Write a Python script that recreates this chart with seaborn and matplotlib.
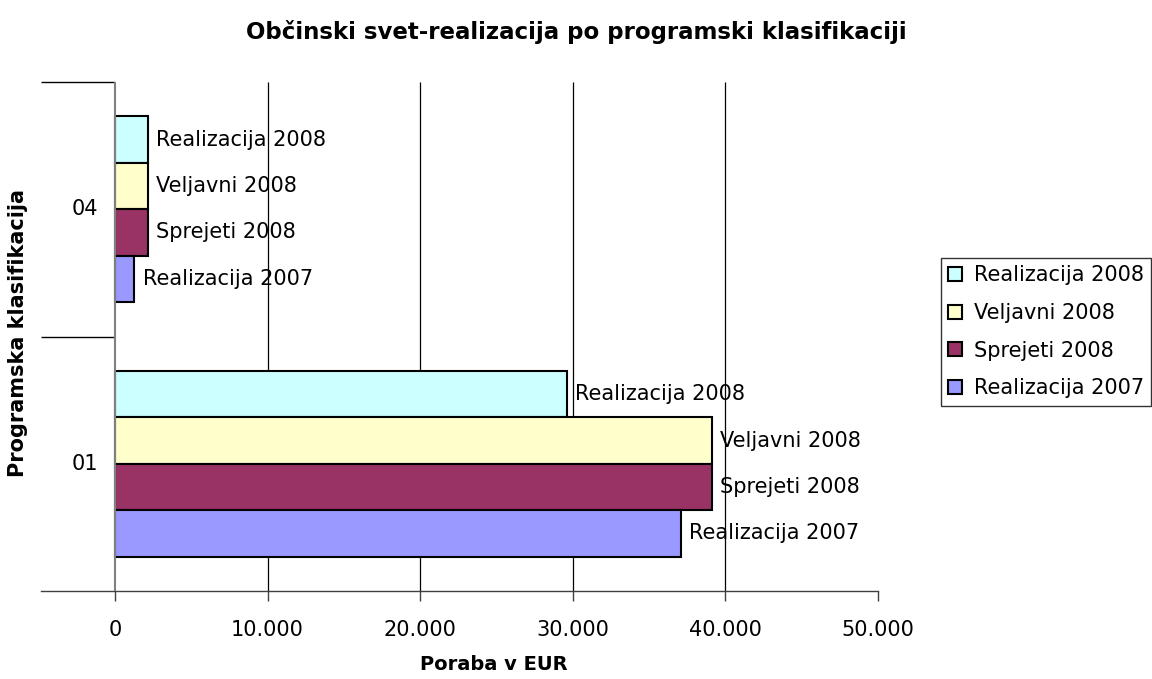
import numpy as np
import pandas as pd
import matplotlib.pyplot as plt
import seaborn as sns
from matplotlib.patches import Patch
from matplotlib.ticker import FuncFormatter

# --- Data ---
programs = ["01", "04"]
series = ["Realizacija 2007", "Sprejeti 2008", "Veljavni 2008", "Realizacija 2008"]
realizacija_2007 = [37100, 1270]
sprejeti_2008 = [39100, 2150]
veljavni_2008 = [39100, 2150]
realizacija_2008 = [29600, 2150]
x_ticks = [0, 10000, 20000, 30000, 40000, 50000]

colors = {"Realizacija 2008": "#CCFFFF", "Veljavni 2008": "#FFFFCC",
          "Sprejeti 2008": "#993366", "Realizacija 2007": "#9999FF"}

df = pd.DataFrame({
    "program": programs * len(series),
    "serija": np.repeat(series, len(programs)),
    "poraba": realizacija_2007 + sprejeti_2008 + veljavni_2008 + realizacija_2008,
})

order = programs[::-1]        # 04 on top
hue_order = series[::-1]      # Realizacija 2008 on top within a group

# --- Style ---
sns.set_style("white")
plt.rcParams["font.family"] = ["DejaVu Sans"]
plt.rcParams["text.color"] = "black"
plt.rcParams["xtick.color"] = "black"
plt.rcParams["axes.labelcolor"] = "black"

fig = plt.figure(figsize=(11.52, 6.79), dpi=100)
ax = fig.add_axes([41 / 1152, 88 / 679, 837 / 1152, 509 / 679])

xmin = -4850
# gridlines behind bars
ax.vlines(x_ticks[1:-1], -0.5, 1.5, color="black", lw=0.9, zorder=0.5)

sns.barplot(data=df, y="program", x="poraba", hue="serija", order=order,
            hue_order=hue_order, palette=colors, orient="h", width=0.73,
            saturation=1, edgecolor="black", linewidth=1.5, errorbar=None,
            legend=False, ax=ax)

for cont, name in zip(ax.containers, hue_order):
    ax.bar_label(cont, labels=[name] * len(cont), padding=6, fontsize=15, color="black")

ax.set_xlim(xmin, 50000)
ax.set_ylim(1.5, -0.5)

for s in ["top", "right", "left"]:
    ax.spines[s].set_visible(False)
ax.spines["bottom"].set_color("#404040")
ax.spines["bottom"].set_linewidth(1)

# category axis + separators
ax.axvline(0, color="#808080", lw=1.5, zorder=3)
ax.hlines([-0.5, 0.5], xmin, 0, color="black", lw=1, clip_on=False)

ax.set_xticks(x_ticks)
ax.xaxis.set_major_formatter(FuncFormatter(lambda v, _: f"{int(v):,}".replace(",", ".")))
ax.tick_params(axis="x", bottom=True, direction="out", length=7, width=1,
               color="#404040", labelcolor="black", pad=14, labelsize=15)
ax.set_yticks([])
ax.set_xlabel("")
ax.set_ylabel("")

for i, p in enumerate(order):
    ax.text(-1950, i, p, ha="center", va="center", fontsize=15)

fig.text(0.5, 1 - 32 / 679, "Občinski svet-realizacija po programski klasifikaciji",
         ha="center", va="center", fontsize=16.5, fontweight="bold")
fig.text(494 / 1152, 1 - 665 / 679, "Poraba v EUR", ha="center", va="center",
         fontsize=14, fontweight="bold")
fig.text(18 / 1152, 1 - 333 / 679, "Programska klasifikacija", ha="center", va="center",
         rotation=90, fontsize=15, fontweight="bold")

handles = [Patch(facecolor=colors[n], edgecolor="black", lw=1.5, label=n) for n in hue_order]
leg = ax.legend(handles=handles, loc="upper left", bbox_to_anchor=(941 / 1152, 1 - 258 / 679),
                bbox_transform=fig.transFigure, borderaxespad=0, fontsize=15,
                frameon=True, fancybox=False, handlelength=0.67, handleheight=0.67,
                handletextpad=0.55, labelspacing=0.85, borderpad=0.35)
leg.get_frame().set_edgecolor("black")
leg.get_frame().set_linewidth(1)

plt.savefig("out.png", dpi=100)
